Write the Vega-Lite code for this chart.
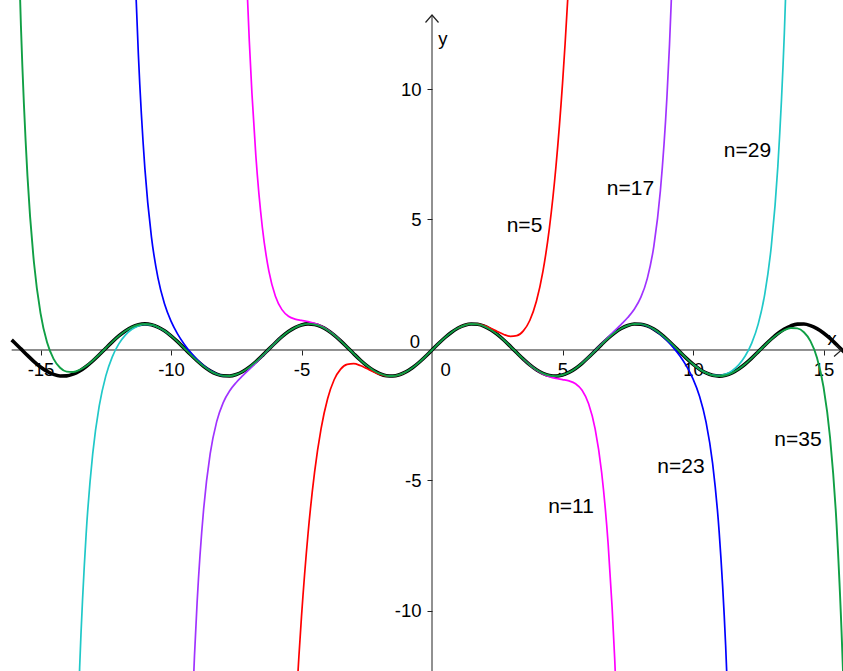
{
"$schema": "https://vega.github.io/schema/vega-lite/v6.json",
"width": 843, "height": 671, "autosize": "none", "padding": 0,
"background": "white",
"config": {"view": {"stroke": null}},
"datasets": {
"curves": [
{"n":"sin","b":"a","x":-16.105,"y":0.387},{"n":"sin","b":"a","x":-16,"y":0.2879},{"n":"sin","b":"a","x":-15.75,"y":0.042},{"n":"sin","b":"a","x":-15.5,"y":-0.2065},{"n":"sin","b":"a","x":-15.25,"y":-0.4421},{"n":"sin","b":"a","x":-15,"y":-0.6503},{"n":"sin","b":"a","x":-14.75,"y":-0.818},{"n":"sin","b":"a","x":-14.5,"y":-0.9349},{"n":"sin","b":"a","x":-14.25,"y":-0.9936},{"n":"sin","b":"a","x":-14,"y":-0.9906},{"n":"sin","b":"a","x":-13.75,"y":-0.9261},{"n":"sin","b":"a","x":-13.5,"y":-0.8038},{"n":"sin","b":"a","x":-13.25,"y":-0.6318},{"n":"sin","b":"a","x":-13,"y":-0.4202},{"n":"sin","b":"a","x":-12.75,"y":-0.1826},{"n":"sin","b":"a","x":-12.5,"y":0.0663},{"n":"sin","b":"a","x":-12.25,"y":0.3111},{"n":"sin","b":"a","x":-12,"y":0.5366},{"n":"sin","b":"a","x":-11.75,"y":0.7286},{"n":"sin","b":"a","x":-11.5,"y":0.8755},{"n":"sin","b":"a","x":-11.25,"y":0.9678},{"n":"sin","b":"a","x":-11,"y":1},{"n":"sin","b":"a","x":-10.75,"y":0.97},{"n":"sin","b":"a","x":-10.5,"y":0.8797},{"n":"sin","b":"a","x":-10.25,"y":0.7346},{"n":"sin","b":"a","x":-10,"y":0.544},{"n":"sin","b":"a","x":-9.75,"y":0.3195},{"n":"sin","b":"a","x":-9.5,"y":0.0752},{"n":"sin","b":"a","x":-9.25,"y":-0.1739},{"n":"sin","b":"a","x":-9,"y":-0.4121},{"n":"sin","b":"a","x":-8.75,"y":-0.6248},{"n":"sin","b":"a","x":-8.5,"y":-0.7985},{"n":"sin","b":"a","x":-8.25,"y":-0.9226},{"n":"sin","b":"a","x":-8,"y":-0.9894},{"n":"sin","b":"a","x":-7.75,"y":-0.9946},{"n":"sin","b":"a","x":-7.5,"y":-0.938},{"n":"sin","b":"a","x":-7.25,"y":-0.8233},{"n":"sin","b":"a","x":-7,"y":-0.657},{"n":"sin","b":"a","x":-6.75,"y":-0.45},{"n":"sin","b":"a","x":-6.5,"y":-0.2151},{"n":"sin","b":"a","x":-6.25,"y":0.0332},{"n":"sin","b":"a","x":-6,"y":0.2794},{"n":"sin","b":"a","x":-5.75,"y":0.5083},{"n":"sin","b":"a","x":-5.5,"y":0.7055},{"n":"sin","b":"a","x":-5.25,"y":0.8589},{"n":"sin","b":"a","x":-5,"y":0.9589},{"n":"sin","b":"a","x":-4.75,"y":0.9993},{"n":"sin","b":"a","x":-4.5,"y":0.9775},{"n":"sin","b":"a","x":-4.25,"y":0.895},{"n":"sin","b":"a","x":-4,"y":0.7568},{"n":"sin","b":"a","x":-3.75,"y":0.5716},{"n":"sin","b":"a","x":-3.5,"y":0.3508},{"n":"sin","b":"a","x":-3.25,"y":0.1082},{"n":"sin","b":"a","x":-3,"y":-0.1411},{"n":"sin","b":"a","x":-2.75,"y":-0.3817},{"n":"sin","b":"a","x":-2.5,"y":-0.5985},{"n":"sin","b":"a","x":-2.25,"y":-0.7781},{"n":"sin","b":"a","x":-2,"y":-0.9093},{"n":"sin","b":"a","x":-1.75,"y":-0.984},{"n":"sin","b":"a","x":-1.5,"y":-0.9975},{"n":"sin","b":"a","x":-1.25,"y":-0.949},{"n":"sin","b":"a","x":-1,"y":-0.8415},{"n":"sin","b":"a","x":-0.75,"y":-0.6816},{"n":"sin","b":"a","x":-0.5,"y":-0.4794},{"n":"sin","b":"a","x":-0.25,"y":-0.2474},{"n":"sin","b":"a","x":0,"y":0},
{"n":"sin","b":"a","x":0.25,"y":0.2474},{"n":"sin","b":"a","x":0.5,"y":0.4794},{"n":"sin","b":"a","x":0.75,"y":0.6816},{"n":"sin","b":"a","x":1,"y":0.8415},{"n":"sin","b":"a","x":1.25,"y":0.949},{"n":"sin","b":"a","x":1.5,"y":0.9975},{"n":"sin","b":"a","x":1.75,"y":0.984},{"n":"sin","b":"a","x":2,"y":0.9093},{"n":"sin","b":"a","x":2.25,"y":0.7781},{"n":"sin","b":"a","x":2.5,"y":0.5985},{"n":"sin","b":"a","x":2.75,"y":0.3817},{"n":"sin","b":"a","x":3,"y":0.1411},{"n":"sin","b":"a","x":3.25,"y":-0.1082},{"n":"sin","b":"a","x":3.5,"y":-0.3508},{"n":"sin","b":"a","x":3.75,"y":-0.5716},{"n":"sin","b":"a","x":4,"y":-0.7568},{"n":"sin","b":"a","x":4.25,"y":-0.895},{"n":"sin","b":"a","x":4.5,"y":-0.9775},{"n":"sin","b":"a","x":4.75,"y":-0.9993},{"n":"sin","b":"a","x":5,"y":-0.9589},{"n":"sin","b":"a","x":5.25,"y":-0.8589},{"n":"sin","b":"a","x":5.5,"y":-0.7055},{"n":"sin","b":"a","x":5.75,"y":-0.5083},{"n":"sin","b":"a","x":6,"y":-0.2794},{"n":"sin","b":"a","x":6.25,"y":-0.0332},{"n":"sin","b":"a","x":6.5,"y":0.2151},{"n":"sin","b":"a","x":6.75,"y":0.45},{"n":"sin","b":"a","x":7,"y":0.657},{"n":"sin","b":"a","x":7.25,"y":0.8233},{"n":"sin","b":"a","x":7.5,"y":0.938},{"n":"sin","b":"a","x":7.75,"y":0.9946},{"n":"sin","b":"a","x":8,"y":0.9894},{"n":"sin","b":"a","x":8.25,"y":0.9226},{"n":"sin","b":"a","x":8.5,"y":0.7985},{"n":"sin","b":"a","x":8.75,"y":0.6248},{"n":"sin","b":"a","x":9,"y":0.4121},{"n":"sin","b":"a","x":9.25,"y":0.1739},{"n":"sin","b":"a","x":9.5,"y":-0.0752},{"n":"sin","b":"a","x":9.75,"y":-0.3195},{"n":"sin","b":"a","x":10,"y":-0.544},{"n":"sin","b":"a","x":10.25,"y":-0.7346},{"n":"sin","b":"a","x":10.5,"y":-0.8797},{"n":"sin","b":"a","x":10.75,"y":-0.97},{"n":"sin","b":"a","x":11,"y":-1},{"n":"sin","b":"a","x":11.25,"y":-0.9678},{"n":"sin","b":"a","x":11.5,"y":-0.8755},{"n":"sin","b":"a","x":11.75,"y":-0.7286},{"n":"sin","b":"a","x":12,"y":-0.5366},{"n":"sin","b":"a","x":12.25,"y":-0.3111},{"n":"sin","b":"a","x":12.5,"y":-0.0663},{"n":"sin","b":"a","x":12.75,"y":0.1826},{"n":"sin","b":"a","x":13,"y":0.4202},{"n":"sin","b":"a","x":13.25,"y":0.6318},{"n":"sin","b":"a","x":13.5,"y":0.8038},{"n":"sin","b":"a","x":13.75,"y":0.9261},{"n":"sin","b":"a","x":14,"y":0.9906},{"n":"sin","b":"a","x":14.25,"y":0.9936},{"n":"sin","b":"a","x":14.5,"y":0.9349},{"n":"sin","b":"a","x":14.75,"y":0.818},{"n":"sin","b":"a","x":15,"y":0.6503},{"n":"sin","b":"a","x":15.25,"y":0.4421},{"n":"sin","b":"a","x":15.5,"y":0.2065},{"n":"sin","b":"a","x":15.75,"y":-0.042},{"n":"sin","b":"a","x":16,"y":-0.2879},

{"n":"5","b":"L","x":-5.3,"y":-15.337},{"n":"5","b":"L","x":-5.2,"y":-13.449},{"n":"5","b":"L","x":-5.1,"y":-11.744},{"n":"5","b":"L","x":-5,"y":-10.208},{"n":"5","b":"L","x":-4.75,"y":-7.039},{"n":"5","b":"L","x":-4.5,"y":-4.6898},{"n":"5","b":"L","x":-4.25,"y":-3.0108},{"n":"5","b":"L","x":-4,"y":-1.8667},{"n":"5","b":"L","x":-3.75,"y":-1.1407},{"n":"5","b":"L","x":-3.5,"y":-0.731},{"n":"5","b":"L","x":-3.25,"y":-0.5502},{"n":"5","b":"L","x":-3,"y":-0.525},{"n":"5","b":"L","x":-2.75,"y":-0.5946},{"n":"5","b":"L","x":-2.5,"y":-0.7096},{"n":"5","b":"L","x":-2.25,"y":-0.8321},{"n":"5","b":"L","x":-2,"y":-0.9333},{"n":"5","b":"L","x":-1.75,"y":-0.9935},{"n":"5","b":"L","x":-1.5,"y":-1.0008},{"n":"5","b":"L","x":-1.25,"y":-0.9499},{"n":"5","b":"L","x":-1,"y":-0.8417},
{"n":"5","b":"R","x":1,"y":0.8417},{"n":"5","b":"R","x":1.25,"y":0.9499},{"n":"5","b":"R","x":1.5,"y":1.0008},{"n":"5","b":"R","x":1.75,"y":0.9935},{"n":"5","b":"R","x":2,"y":0.9333},{"n":"5","b":"R","x":2.25,"y":0.8321},{"n":"5","b":"R","x":2.5,"y":0.7096},{"n":"5","b":"R","x":2.75,"y":0.5946},{"n":"5","b":"R","x":3,"y":0.525},{"n":"5","b":"R","x":3.25,"y":0.5502},{"n":"5","b":"R","x":3.5,"y":0.731},{"n":"5","b":"R","x":3.75,"y":1.1407},{"n":"5","b":"R","x":4,"y":1.8667},{"n":"5","b":"R","x":4.25,"y":3.0108},{"n":"5","b":"R","x":4.5,"y":4.6898},{"n":"5","b":"R","x":4.75,"y":7.039},{"n":"5","b":"R","x":5,"y":10.208},{"n":"5","b":"R","x":5.1,"y":11.744},{"n":"5","b":"R","x":5.2,"y":13.449},{"n":"5","b":"R","x":5.3,"y":15.337},

{"n":"11","b":"L","x":-7.1,"y":14.213},{"n":"11","b":"L","x":-7,"y":11.8422},{"n":"11","b":"L","x":-6.9,"y":9.8491},{"n":"11","b":"L","x":-6.75,"y":7.4538},{"n":"11","b":"L","x":-6.5,"y":4.6926},{"n":"11","b":"L","x":-6.25,"y":3.021},{"n":"11","b":"L","x":-6,"y":2.0602},{"n":"11","b":"L","x":-5.75,"y":1.5456},{"n":"11","b":"L","x":-5.5,"y":1.2947},{"n":"11","b":"L","x":-5.25,"y":1.1846},{"n":"11","b":"L","x":-5,"y":1.1336},{"n":"11","b":"L","x":-4.75,"y":1.09},{"n":"11","b":"L","x":-4.5,"y":1.0229},{"n":"11","b":"L","x":-4.25,"y":0.9168},{"n":"11","b":"L","x":-4,"y":0.7668},{"n":"11","b":"L","x":-3.75,"y":0.5759},{"n":"11","b":"L","x":-3.5,"y":0.3526},
{"n":"11","b":"R","x":3.5,"y":-0.3526},{"n":"11","b":"R","x":3.75,"y":-0.5759},{"n":"11","b":"R","x":4,"y":-0.7668},{"n":"11","b":"R","x":4.25,"y":-0.9168},{"n":"11","b":"R","x":4.5,"y":-1.0229},{"n":"11","b":"R","x":4.75,"y":-1.09},{"n":"11","b":"R","x":5,"y":-1.1336},{"n":"11","b":"R","x":5.25,"y":-1.1846},{"n":"11","b":"R","x":5.5,"y":-1.2947},{"n":"11","b":"R","x":5.75,"y":-1.5456},{"n":"11","b":"R","x":6,"y":-2.0602},{"n":"11","b":"R","x":6.25,"y":-3.021},{"n":"11","b":"R","x":6.5,"y":-4.6926},{"n":"11","b":"R","x":6.75,"y":-7.4538},{"n":"11","b":"R","x":6.9,"y":-9.8491},{"n":"11","b":"R","x":7,"y":-11.8422},{"n":"11","b":"R","x":7.1,"y":-14.213},

{"n":"17","b":"L","x":-9.2,"y":-14.182},{"n":"17","b":"L","x":-9.1,"y":-11.705},{"n":"17","b":"L","x":-9,"y":-9.6767},{"n":"17","b":"L","x":-8.75,"y":-6.1005},{"n":"17","b":"L","x":-8.5,"y":-3.9843},{"n":"17","b":"L","x":-8.25,"y":-2.7455},{"n":"17","b":"L","x":-8,"y":-2.0142},{"n":"17","b":"L","x":-7.75,"y":-1.56},{"n":"17","b":"L","x":-7.5,"y":-1.2438},{"n":"17","b":"L","x":-7.25,"y":-0.9852},{"n":"17","b":"L","x":-7,"y":-0.7408},{"n":"17","b":"L","x":-6.75,"y":-0.4923},{"n":"17","b":"L","x":-6.5,"y":-0.2359},{"n":"17","b":"L","x":-6.25,"y":0.0233},{"n":"17","b":"L","x":-6,"y":0.2748},{"n":"17","b":"L","x":-5.75,"y":0.5079},
{"n":"17","b":"R","x":5.75,"y":-0.5079},{"n":"17","b":"R","x":6,"y":-0.2748},{"n":"17","b":"R","x":6.25,"y":-0.0233},{"n":"17","b":"R","x":6.5,"y":0.2359},{"n":"17","b":"R","x":6.75,"y":0.4923},{"n":"17","b":"R","x":7,"y":0.7408},{"n":"17","b":"R","x":7.25,"y":0.9852},{"n":"17","b":"R","x":7.5,"y":1.2438},{"n":"17","b":"R","x":7.75,"y":1.56},{"n":"17","b":"R","x":8,"y":2.0142},{"n":"17","b":"R","x":8.25,"y":2.7455},{"n":"17","b":"R","x":8.5,"y":3.9843},{"n":"17","b":"R","x":8.75,"y":6.1005},{"n":"17","b":"R","x":9,"y":9.6767},{"n":"17","b":"R","x":9.1,"y":11.705},{"n":"17","b":"R","x":9.2,"y":14.182},

{"n":"23","b":"L","x":-11.35,"y":13.808},{"n":"23","b":"L","x":-11.25,"y":11.313},{"n":"23","b":"L","x":-11,"y":6.9396},{"n":"23","b":"L","x":-10.75,"y":4.3365},{"n":"23","b":"L","x":-10.5,"y":2.7617},{"n":"23","b":"L","x":-10.25,"y":1.7718},{"n":"23","b":"L","x":-10,"y":1.1071},{"n":"23","b":"L","x":-9.75,"y":0.6204},{"n":"23","b":"L","x":-9.5,"y":0.2334},{"n":"23","b":"L","x":-9.25,"y":-0.0922},{"n":"23","b":"L","x":-9,"y":-0.3707},{"n":"23","b":"L","x":-8.75,"y":-0.6042},{"n":"23","b":"L","x":-8.5,"y":-0.7885},{"n":"23","b":"L","x":-8.25,"y":-0.9178},{"n":"23","b":"L","x":-8,"y":-0.9872},{"n":"23","b":"L","x":-7.75,"y":-0.9936},
{"n":"23","b":"R","x":7.75,"y":0.9936},{"n":"23","b":"R","x":8,"y":0.9872},{"n":"23","b":"R","x":8.25,"y":0.9178},{"n":"23","b":"R","x":8.5,"y":0.7885},{"n":"23","b":"R","x":8.75,"y":0.6042},{"n":"23","b":"R","x":9,"y":0.3707},{"n":"23","b":"R","x":9.25,"y":0.0922},{"n":"23","b":"R","x":9.5,"y":-0.2334},{"n":"23","b":"R","x":9.75,"y":-0.6204},{"n":"23","b":"R","x":10,"y":-1.1071},{"n":"23","b":"R","x":10.25,"y":-1.7718},{"n":"23","b":"R","x":10.5,"y":-2.7617},{"n":"23","b":"R","x":10.75,"y":-4.3365},{"n":"23","b":"R","x":11,"y":-6.9396},{"n":"23","b":"R","x":11.25,"y":-11.313},{"n":"23","b":"R","x":11.35,"y":-13.808},

{"n":"29","b":"L","x":-13.6,"y":-15.097},{"n":"29","b":"L","x":-13.5,"y":-12.1558},{"n":"29","b":"L","x":-13.25,"y":-7.0268},{"n":"29","b":"L","x":-13,"y":-3.9829},{"n":"29","b":"L","x":-12.75,"y":-2.1445},{"n":"29","b":"L","x":-12.5,"y":-1.0014},{"n":"29","b":"L","x":-12.25,"y":-0.2626},{"n":"29","b":"L","x":-12,"y":0.2323},{"n":"29","b":"L","x":-11.75,"y":0.5693},{"n":"29","b":"L","x":-11.5,"y":0.7933},{"n":"29","b":"L","x":-11.25,"y":0.926},{"n":"29","b":"L","x":-11,"y":0.9791},{"n":"29","b":"L","x":-10.75,"y":0.9597},{"n":"29","b":"L","x":-10.5,"y":0.8747},{"n":"29","b":"L","x":-10.25,"y":0.7322},{"n":"29","b":"L","x":-10,"y":0.5429},
{"n":"29","b":"R","x":10,"y":-0.5429},{"n":"29","b":"R","x":10.25,"y":-0.7322},{"n":"29","b":"R","x":10.5,"y":-0.8747},{"n":"29","b":"R","x":10.75,"y":-0.9597},{"n":"29","b":"R","x":11,"y":-0.9791},{"n":"29","b":"R","x":11.25,"y":-0.926},{"n":"29","b":"R","x":11.5,"y":-0.7933},{"n":"29","b":"R","x":11.75,"y":-0.5693},{"n":"29","b":"R","x":12,"y":-0.2323},{"n":"29","b":"R","x":12.25,"y":0.2626},{"n":"29","b":"R","x":12.5,"y":1.0014},{"n":"29","b":"R","x":12.75,"y":2.1445},{"n":"29","b":"R","x":13,"y":3.9829},{"n":"29","b":"R","x":13.25,"y":7.0268},{"n":"29","b":"R","x":13.5,"y":12.1558},{"n":"29","b":"R","x":13.6,"y":15.097},

{"n":"35","b":"a","x":-15.85,"y":15.75},{"n":"35","b":"a","x":-15.75,"y":12.4165},{"n":"35","b":"a","x":-15.5,"y":6.6711},{"n":"35","b":"a","x":-15.25,"y":3.3436},{"n":"35","b":"a","x":-15,"y":1.4127},{"n":"35","b":"a","x":-14.75,"y":0.2947},{"n":"35","b":"a","x":-14.5,"y":-0.3412},{"n":"35","b":"a","x":-14.25,"y":-0.6802},{"n":"35","b":"a","x":-14,"y":-0.8271},{"n":"35","b":"a","x":-13.75,"y":-0.8418},{"n":"35","b":"a","x":-13.5,"y":-0.7609},{"n":"35","b":"a","x":-13.25,"y":-0.6102},{"n":"35","b":"a","x":-13,"y":-0.4095},{"n":"35","b":"a","x":-12.75,"y":-0.1774},{"n":"35","b":"a","x":-12.5,"y":0.0688},{"n":"35","b":"a","x":-12.25,"y":0.3123},{"n":"35","b":"a","x":-12,"y":0.5372},{"n":"35","b":"a","x":-11.75,"y":0.7286},{"n":"35","b":"a","x":-11.5,"y":0.8755},{"n":"35","b":"a","x":-11.25,"y":0.9678},{"n":"35","b":"a","x":-11,"y":1},{"n":"35","b":"a","x":-10.75,"y":0.97},{"n":"35","b":"a","x":-10.5,"y":0.8797},{"n":"35","b":"a","x":-10.25,"y":0.7346},{"n":"35","b":"a","x":-10,"y":0.544},{"n":"35","b":"a","x":-9.75,"y":0.3195},{"n":"35","b":"a","x":-9.5,"y":0.0752},{"n":"35","b":"a","x":-9.25,"y":-0.1739},{"n":"35","b":"a","x":-9,"y":-0.4121},{"n":"35","b":"a","x":-8.75,"y":-0.6248},{"n":"35","b":"a","x":-8.5,"y":-0.7985},{"n":"35","b":"a","x":-8.25,"y":-0.9226},{"n":"35","b":"a","x":-8,"y":-0.9894},{"n":"35","b":"a","x":-7.75,"y":-0.9946},{"n":"35","b":"a","x":-7.5,"y":-0.938},{"n":"35","b":"a","x":-7.25,"y":-0.8233},{"n":"35","b":"a","x":-7,"y":-0.657},{"n":"35","b":"a","x":-6.75,"y":-0.45},{"n":"35","b":"a","x":-6.5,"y":-0.2151},{"n":"35","b":"a","x":-6.25,"y":0.0332},{"n":"35","b":"a","x":-6,"y":0.2794},{"n":"35","b":"a","x":-5.75,"y":0.5083},{"n":"35","b":"a","x":-5.5,"y":0.7055},{"n":"35","b":"a","x":-5.25,"y":0.8589},{"n":"35","b":"a","x":-5,"y":0.9589},{"n":"35","b":"a","x":-4.75,"y":0.9993},{"n":"35","b":"a","x":-4.5,"y":0.9775},{"n":"35","b":"a","x":-4.25,"y":0.895},{"n":"35","b":"a","x":-4,"y":0.7568},{"n":"35","b":"a","x":-3.75,"y":0.5716},{"n":"35","b":"a","x":-3.5,"y":0.3508},{"n":"35","b":"a","x":-3.25,"y":0.1082},{"n":"35","b":"a","x":-3,"y":-0.1411},{"n":"35","b":"a","x":-2.75,"y":-0.3817},{"n":"35","b":"a","x":-2.5,"y":-0.5985},{"n":"35","b":"a","x":-2.25,"y":-0.7781},{"n":"35","b":"a","x":-2,"y":-0.9093},{"n":"35","b":"a","x":-1.75,"y":-0.984},{"n":"35","b":"a","x":-1.5,"y":-0.9975},{"n":"35","b":"a","x":-1.25,"y":-0.949},{"n":"35","b":"a","x":-1,"y":-0.8415},{"n":"35","b":"a","x":-0.75,"y":-0.6816},{"n":"35","b":"a","x":-0.5,"y":-0.4794},{"n":"35","b":"a","x":-0.25,"y":-0.2474},{"n":"35","b":"a","x":0,"y":0},
{"n":"35","b":"a","x":0.25,"y":0.2474},{"n":"35","b":"a","x":0.5,"y":0.4794},{"n":"35","b":"a","x":0.75,"y":0.6816},{"n":"35","b":"a","x":1,"y":0.8415},{"n":"35","b":"a","x":1.25,"y":0.949},{"n":"35","b":"a","x":1.5,"y":0.9975},{"n":"35","b":"a","x":1.75,"y":0.984},{"n":"35","b":"a","x":2,"y":0.9093},{"n":"35","b":"a","x":2.25,"y":0.7781},{"n":"35","b":"a","x":2.5,"y":0.5985},{"n":"35","b":"a","x":2.75,"y":0.3817},{"n":"35","b":"a","x":3,"y":0.1411},{"n":"35","b":"a","x":3.25,"y":-0.1082},{"n":"35","b":"a","x":3.5,"y":-0.3508},{"n":"35","b":"a","x":3.75,"y":-0.5716},{"n":"35","b":"a","x":4,"y":-0.7568},{"n":"35","b":"a","x":4.25,"y":-0.895},{"n":"35","b":"a","x":4.5,"y":-0.9775},{"n":"35","b":"a","x":4.75,"y":-0.9993},{"n":"35","b":"a","x":5,"y":-0.9589},{"n":"35","b":"a","x":5.25,"y":-0.8589},{"n":"35","b":"a","x":5.5,"y":-0.7055},{"n":"35","b":"a","x":5.75,"y":-0.5083},{"n":"35","b":"a","x":6,"y":-0.2794},{"n":"35","b":"a","x":6.25,"y":-0.0332},{"n":"35","b":"a","x":6.5,"y":0.2151},{"n":"35","b":"a","x":6.75,"y":0.45},{"n":"35","b":"a","x":7,"y":0.657},{"n":"35","b":"a","x":7.25,"y":0.8233},{"n":"35","b":"a","x":7.5,"y":0.938},{"n":"35","b":"a","x":7.75,"y":0.9946},{"n":"35","b":"a","x":8,"y":0.9894},{"n":"35","b":"a","x":8.25,"y":0.9226},{"n":"35","b":"a","x":8.5,"y":0.7985},{"n":"35","b":"a","x":8.75,"y":0.6248},{"n":"35","b":"a","x":9,"y":0.4121},{"n":"35","b":"a","x":9.25,"y":0.1739},{"n":"35","b":"a","x":9.5,"y":-0.0752},{"n":"35","b":"a","x":9.75,"y":-0.3195},{"n":"35","b":"a","x":10,"y":-0.544},{"n":"35","b":"a","x":10.25,"y":-0.7346},{"n":"35","b":"a","x":10.5,"y":-0.8797},{"n":"35","b":"a","x":10.75,"y":-0.97},{"n":"35","b":"a","x":11,"y":-1},{"n":"35","b":"a","x":11.25,"y":-0.9678},{"n":"35","b":"a","x":11.5,"y":-0.8755},{"n":"35","b":"a","x":11.75,"y":-0.7286},{"n":"35","b":"a","x":12,"y":-0.5372},{"n":"35","b":"a","x":12.25,"y":-0.3123},{"n":"35","b":"a","x":12.5,"y":-0.0688},{"n":"35","b":"a","x":12.75,"y":0.1774},{"n":"35","b":"a","x":13,"y":0.4095},{"n":"35","b":"a","x":13.25,"y":0.6102},{"n":"35","b":"a","x":13.5,"y":0.7609},{"n":"35","b":"a","x":13.75,"y":0.8418},{"n":"35","b":"a","x":14,"y":0.8271},{"n":"35","b":"a","x":14.25,"y":0.6802},{"n":"35","b":"a","x":14.5,"y":0.3412},{"n":"35","b":"a","x":14.75,"y":-0.2947},{"n":"35","b":"a","x":15,"y":-1.4127},{"n":"35","b":"a","x":15.25,"y":-3.3436},{"n":"35","b":"a","x":15.5,"y":-6.6711},{"n":"35","b":"a","x":15.75,"y":-12.4165},{"n":"35","b":"a","x":15.85,"y":-15.75}
],
"labels": [
{"t":"n=5","x":3.544,"y":4.743},{"t":"n=17","x":7.605,"y":6.18},{"t":"n=29","x":12.088,"y":7.617},{"t":"n=11","x":5.326,"y":-6.012},{"t":"n=23","x":9.54,"y":-4.479},{"t":"n=35","x":14.023,"y":-3.456}
],
"axislabels": [
{"t":"0","x":-0.651,"y":0.314},{"t":"0","x":0.525,"y":-0.77},{"t":"x","x":15.33,"y":0.406},{"t":"y","x":0.421,"y":11.9}
]
},
"encoding": {
"x": {"field":"x","type":"quantitative","scale":{"domain":[-16.552,15.747],"nice":false,"zero":false},
 "axis":{"values":[-15,-10,-5,5,10,15],"labelExpr":"'' + datum.value","offset":-321,"domain":false,"grid":false,"title":null,"tickSize":5,"tickColor":"#222","labelFont":"Liberation Sans","labelFontSize":18.5,"labelColor":"#000","labelPadding":5,"labelFlush":false,"labelOverlap":false}},
"y": {"field":"y","type":"quantitative","scale":{"domain":[-12.299,13.41],"nice":false,"zero":false},
 "axis":{"values":[-10,-5,5,10],"labelExpr":"'' + datum.value","offset":-432,"domain":false,"grid":false,"title":null,"tickSize":5,"tickColor":"#222","labelFont":"Liberation Sans","labelFontSize":18.5,"labelColor":"#000","labelPadding":6,"labelFlush":false,"labelOverlap":false}}
},
"layer": [
{"data":{"values":[{"x":-16.105,"x2":15.69,"y":0}]},"mark":{"type":"rule","color":"#222","strokeWidth":1,"clip":true},"encoding":{"x2":{"field":"x2"}}},
{"data":{"values":[{"x":0,"y":-13,"y2":12.835}]},"mark":{"type":"rule","color":"#222","strokeWidth":1,"clip":true},"encoding":{"y2":{"field":"y2"}}},
{"data":{"name":"curves"},"transform":[{"filter":"datum.n == 'sin'"}],"mark":{"type":"line","color":"#000","strokeWidth":3.6,"interpolate":"monotone","clip":true},"encoding":{}},
{"data":{"name":"curves"},"transform":[{"filter":"datum.n != 'sin' && datum.n != '35'"}],"mark":{"type":"line","strokeWidth":1.7,"interpolate":"monotone","clip":true},
 "encoding":{"color":{"field":"n","type":"nominal","scale":{"domain":["5","11","17","23","29"],"range":["#FF0000","#FF00FF","#A033FF","#0000FF","#20C8C8"]},"legend":null},"detail":{"field":"b","type":"nominal"}}},
{"data":{"name":"curves"},"transform":[{"filter":"datum.n == '35'"}],"mark":{"type":"line","color":"#109F45","strokeWidth":1.9,"interpolate":"monotone","clip":true},"encoding":{}},
{"data":{"values":[{"x":0,"y":12.835}]},"mark":{"type":"point","shape":"M-1,1.15L0,0L1,1.15","size":169,"filled":false,"stroke":"#222","strokeWidth":1.2,"opacity":1}},
{"data":{"values":[{"x":15.69,"y":0}]},"mark":{"type":"point","shape":"M-1.15,-1L0,0L-1.15,1","size":169,"filled":false,"stroke":"#222","strokeWidth":1.2,"opacity":1}},
{"data":{"name":"labels"},"mark":{"type":"text","font":"Liberation Sans","fontSize":21,"color":"#000","align":"center","baseline":"middle"},"encoding":{"text":{"field":"t"}}},
{"data":{"name":"axislabels"},"mark":{"type":"text","font":"Liberation Sans","fontSize":18.5,"color":"#000","align":"center","baseline":"middle"},"encoding":{"text":{"field":"t"}}}
]
}
